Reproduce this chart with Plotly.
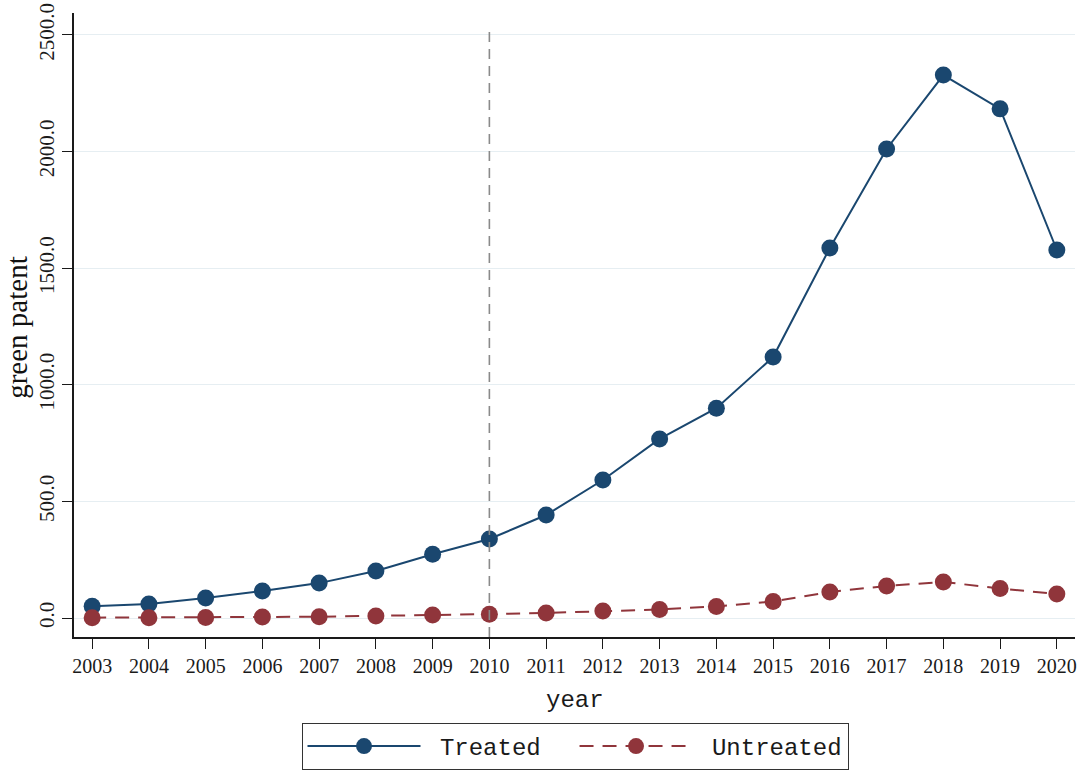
import plotly.graph_objects as go

# Green patent counts by year for treated and untreated groups
years = list(range(2003, 2021))
treated = [51, 60, 86, 116, 150, 202, 274, 339, 442, 592, 768, 900, 1119, 1587, 2011, 2328, 2183, 1578]
untreated = [2, 2, 3, 5, 6, 9, 13, 17, 22, 30, 37, 50, 71, 112, 138, 155, 127, 103]

y_ticks = [0, 500, 1000, 1500, 2000, 2500]
y_tick_labels = ["0.0", "500.0", "1000.0", "1500.0", "2000.0", "2500.0"]
policy_year = 2010

navy = "#1a476f"
maroon = "#90353b"
ink = "#1a1a1a"
serif = "Liberation Serif, Times New Roman, serif"
mono = "Liberation Mono, Courier New, monospace"
nb = "\u00a0"

fig = go.Figure()
fig.add_trace(go.Scatter(
    x=years, y=treated, name=nb + "Treated" + nb * 2, mode="lines+markers",
    line=dict(color=navy, width=2),
    marker=dict(color=navy, size=17, symbol="circle"),
))
fig.add_trace(go.Scatter(
    x=years, y=untreated, name=nb + "Untreated", mode="lines+markers",
    line=dict(color=maroon, width=2, dash="14px,9px"),
    marker=dict(color=maroon, size=17, symbol="circle"),
))

# Policy year marker
fig.add_shape(type="line", xref="x", yref="paper", x0=policy_year, x1=policy_year,
              y0=0, y1=0.98, line=dict(color="#8a8a8a", width=1.6, dash="10px,7px"))

# Axis titles
fig.add_annotation(text="green patent", xref="paper", yref="paper", x=-0.057, y=0.497,
                   xanchor="center", yanchor="middle", textangle=-90, showarrow=False,
                   font=dict(family=serif, size=29, color="#111111"))
fig.add_annotation(text="year", xref="paper", yref="paper", x=0.5005, y=-0.101,
                   xanchor="center", yanchor="middle", showarrow=False,
                   font=dict(family=mono, size=24, color=ink))

fig.update_layout(
    width=1084, height=774,
    margin=dict(l=74, r=9, t=13, b=137, autoexpand=False),
    paper_bgcolor="white", plot_bgcolor="white",
    font=dict(family=serif, color=ink),
    showlegend=True,
    legend=dict(
        orientation="h", x=0.5005, xanchor="center", y=-0.1378, yanchor="top",
        bordercolor="#333333", borderwidth=1, bgcolor="white",
        font=dict(family=mono, size=24, color=ink),
        itemwidth=113, tracegroupgap=0,
    ),
    xaxis=dict(
        range=[2002.68, 2020.32], tickmode="array", tickvals=years,
        ticktext=[str(y) for y in years],
        showgrid=False, zeroline=False,
        showline=True, linecolor=ink, linewidth=1.5,
        ticks="outside", ticklen=10, tickcolor=ink, tickwidth=1.2,
        tickfont=dict(family=serif, size=20, color=ink),
    ),
    yaxis=dict(
        range=[-81, 2594], tickmode="array", tickvals=y_ticks, ticktext=y_tick_labels,
        showgrid=True, gridcolor="#e6eef2", gridwidth=1.2, zeroline=False,
        showline=True, linecolor=ink, linewidth=1.5,
        ticks="outside", ticklen=10, tickcolor=ink, tickwidth=1.2,
        tickangle=-90,
        tickfont=dict(family=serif, size=21, color=ink),
    ),
)

fig.write_html("out.html")
